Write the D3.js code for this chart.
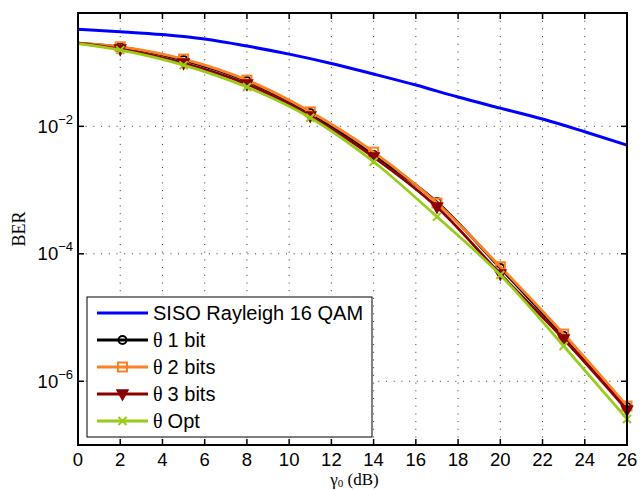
<!DOCTYPE html>
<html>
<head>
<meta charset="utf-8">
<script src="https://cdn.jsdelivr.net/npm/d3@7"></script>
<style>
  body { margin: 0; background: #fff; }
  text { font-family: "Liberation Sans", Arial, sans-serif; }
</style>
</head>
<body>
<div id="chart"></div>
<script>
// DATA
const snrBlue = [0, 2, 4, 6, 8, 10, 12, 14, 16, 18, 20, 22, 24, 26];
const berSiso = [0.335, 0.306, 0.275, 0.234, 0.1816, 0.1358, 0.0970, 0.0661, 0.0444, 0.0288, 0.0193, 0.0130, 0.00822, 0.00508];

const snrTheta = [0, 2, 5, 8, 11, 14, 17, 20, 23, 26];
const berTheta1 = [0.202, 0.175, 0.1094, 0.0513, 0.01614, 0.00354, 6.49e-4, 5.97e-5, 5.13e-6, 3.94e-7];
const berTheta2 = [0.202, 0.177, 0.1135, 0.0531, 0.0169, 0.00394, 6.25e-4, 6.27e-5, 5.51e-6, 4.09e-7];
const berTheta3 = [0.202, 0.163, 0.0982, 0.0460, 0.01449, 0.00330, 5.41e-4, 4.81e-5, 4.60e-6, 3.54e-7];
const berThetaOpt = [0.1986, 0.157, 0.0914, 0.0413, 0.01361, 0.00278, 3.81e-4, 4.65e-5, 3.57e-6, 2.56e-7];

const xTicks = [0, 2, 4, 6, 8, 10, 12, 14, 16, 18, 20, 22, 24, 26];
const yTicks = [1e-2, 1e-4, 1e-6];
const yTickExp = ["\u22122", "\u22124", "\u22126"];

const seriesNames = ["SISO Rayleigh 16 QAM", "1 bit", "2 bits", "3 bits", "Opt"];
const seriesTheta = [false, true, true, true, true];
const seriesColors = ["#0000ff", "#000000", "#ff8020", "#8b0000", "#99cc1a"];
const seriesMarkers = ["none", "circle", "square", "triangle", "cross"];

// SETUP
const margin = { top: 13, right: 13, bottom: 45, left: 78 };
const width = 640 - margin.left - margin.right;
const height = 490 - margin.top - margin.bottom;

const svg = d3.select("#chart")
    .append("svg")
    .attr("width", 640)
    .attr("height", 490)
    .append("g")
    .attr("transform", `translate(${margin.left},${margin.top})`);

// SCALES
const x = d3.scaleLinear().domain([0, 26]).range([0, width]);
const y = d3.scaleLog().domain([1e-7, 0.6]).range([height, 0]);

// GRID (dotted)
svg.append("g")
    .selectAll("line")
    .data(xTicks.slice(1, -1))
    .enter().append("line")
    .attr("x1", d => x(d)).attr("x2", d => x(d))
    .attr("y1", 0).attr("y2", height)
    .attr("stroke", "#333").attr("stroke-width", 1)
    .attr("stroke-dasharray", "1,6.7");

svg.append("g")
    .selectAll("line")
    .data(yTicks)
    .enter().append("line")
    .attr("x1", 0).attr("x2", width)
    .attr("y1", d => y(d)).attr("y2", d => y(d))
    .attr("stroke", "#333").attr("stroke-width", 1)
    .attr("stroke-dasharray", "1,6.7");

// LINES
const series = [
    { xs: snrBlue, ys: berSiso },
    { xs: snrTheta, ys: berTheta1 },
    { xs: snrTheta, ys: berTheta2 },
    { xs: snrTheta, ys: berTheta3 },
    { xs: snrTheta, ys: berThetaOpt }
].map((s, i) => ({
    name: seriesNames[i],
    theta: seriesTheta[i],
    color: seriesColors[i],
    marker: seriesMarkers[i],
    values: s.xs.map((v, j) => ({ x: v, y: s.ys[j] }))
}));

const line = d3.line()
    .x(d => x(d.x))
    .y(d => y(d.y))
    .curve(d3.curveMonotoneX);

function drawMarker(g, type, color) {
    if (type === "circle") {
        g.append("circle").attr("r", 4)
            .attr("fill", "none").attr("stroke", color).attr("stroke-width", 2);
    } else if (type === "square") {
        g.append("rect").attr("x", -4.5).attr("y", -4.5).attr("width", 9).attr("height", 9)
            .attr("fill", "none").attr("stroke", color).attr("stroke-width", 2);
    } else if (type === "triangle") {
        g.append("path").attr("d", "M-5.5,-4L5.5,-4L0,6Z")
            .attr("fill", color).attr("stroke", color).attr("stroke-width", 1.5);
    } else if (type === "cross") {
        g.append("path").attr("d", "M-4,-4L4,4M-4,4L4,-4")
            .attr("fill", "none").attr("stroke", color).attr("stroke-width", 2);
    }
}

series.forEach(s => {
    svg.append("path")
        .datum(s.values)
        .attr("d", line)
        .attr("fill", "none")
        .attr("stroke", s.color)
        .attr("stroke-width", s.marker === "none" ? 3 : 2.8)
        .attr("stroke-linejoin", "round");

    if (s.marker !== "none") {
        s.values.slice(1).forEach(d => {
            const g = svg.append("g").attr("transform", `translate(${x(d.x)},${y(d.y)})`);
            drawMarker(g, s.marker, s.color);
        });
    }
});

// AXES BOX + TICKS
svg.append("rect")
    .attr("width", width).attr("height", height)
    .attr("fill", "none").attr("stroke", "#000").attr("stroke-width", 2);

const tickLen = 6;
xTicks.forEach(t => {
    svg.append("line").attr("x1", x(t)).attr("x2", x(t)).attr("y1", height).attr("y2", height - tickLen)
        .attr("stroke", "#000").attr("stroke-width", 1.5);
    svg.append("line").attr("x1", x(t)).attr("x2", x(t)).attr("y1", 0).attr("y2", tickLen)
        .attr("stroke", "#000").attr("stroke-width", 1.5);
    svg.append("text")
        .attr("x", x(t)).attr("y", height + 21)
        .attr("text-anchor", "middle")
        .attr("font-size", 18.5)
        .text(t);
});

yTicks.forEach((t, i) => {
    svg.append("line").attr("x1", 0).attr("x2", tickLen).attr("y1", y(t)).attr("y2", y(t))
        .attr("stroke", "#000").attr("stroke-width", 1.5);
    svg.append("line").attr("x1", width).attr("x2", width - tickLen).attr("y1", y(t)).attr("y2", y(t))
        .attr("stroke", "#000").attr("stroke-width", 1.5);
    const lbl = svg.append("text")
        .attr("x", -5).attr("y", y(t) + 6.5)
        .attr("text-anchor", "end")
        .attr("font-size", 18.5);
    lbl.append("tspan").text("10");
    lbl.append("tspan").attr("font-size", 13).attr("dy", -9).text(yTickExp[i]);
});

// LABELS
const xLabel = svg.append("text")
    .attr("x", width / 2 + 2).attr("y", height + 40)
    .attr("text-anchor", "middle")
    .style("font-family", "'Liberation Serif', 'Times New Roman', serif")
    .attr("font-size", 17);
xLabel.append("tspan").text("\u03b3");
xLabel.append("tspan").attr("font-size", 11).attr("dy", 2).text("0");
xLabel.append("tspan").attr("dy", -2).text(" (dB)");

svg.append("text")
    .attr("transform", `translate(${25 - margin.left},${229 - margin.top}) rotate(-90)`)
    .attr("text-anchor", "middle")
    .style("font-family", "'Liberation Serif', 'Times New Roman', serif")
    .attr("font-size", 18)
    .text("BER");

// LEGEND
const legend = svg.append("g")
    .attr("transform", `translate(${87 - margin.left},${297 - margin.top})`);

legend.append("rect")
    .attr("width", 285).attr("height", 140)
    .attr("fill", "#fff").attr("stroke", "#000").attr("stroke-width", 1);

series.forEach((s, i) => {
    const row = legend.append("g").attr("transform", `translate(0,${16 + i * 27})`);
    row.append("line")
        .attr("x1", 10).attr("x2", 61)
        .attr("stroke", s.color).attr("stroke-width", s.marker === "none" ? 3 : 2.8);
    if (s.marker !== "none") {
        const g = row.append("g").attr("transform", "translate(35.5,0)");
        drawMarker(g, s.marker, s.color);
    }
    const txt = row.append("text")
        .attr("x", 66).attr("y", 7)
        .attr("font-size", 20);
    if (s.theta) {
        txt.append("tspan")
            .style("font-family", "'Liberation Serif', 'Times New Roman', serif")
            .text("\u03b8 ");
    }
    txt.append("tspan").text(s.name);
});
</script>
</body>
</html>
